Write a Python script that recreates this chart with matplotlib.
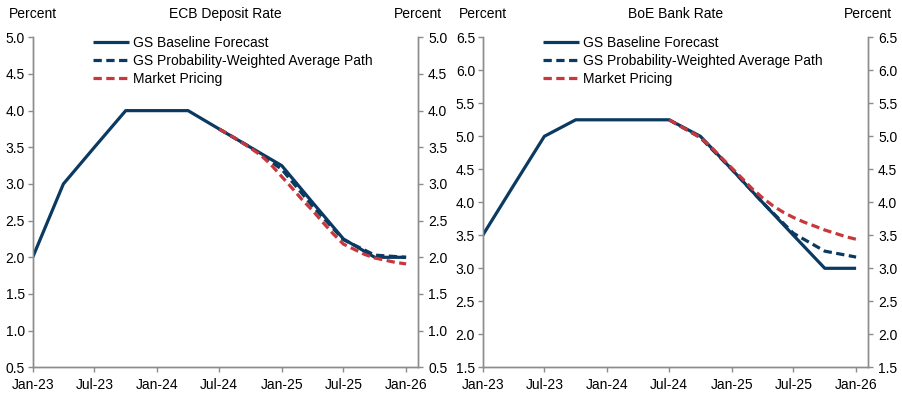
import matplotlib
matplotlib.use('Agg')
import matplotlib.pyplot as plt
import matplotlib.dates as mdates
import pandas as pd

plt.rcParams['font.family'] = ['Liberation Sans', 'DejaVu Sans']

# ---- data ----
quarter_dates = ['2023-01-01', '2023-04-01', '2023-07-01', '2023-10-01', '2024-01-01',
                 '2024-04-01', '2024-07-01', '2024-10-01', '2025-01-01', '2025-04-01',
                 '2025-07-01', '2025-10-01', '2026-01-01']
fcst_quarter_dates = ['2024-07-01', '2024-10-01', '2025-01-01', '2025-04-01',
                      '2025-07-01', '2025-10-01', '2026-01-01']
market_dates = ['2024-07-01', '2024-08-01', '2024-09-01', '2024-10-01', '2024-11-01',
                '2024-12-01', '2025-01-01', '2025-02-01', '2025-03-01', '2025-04-01',
                '2025-05-01', '2025-06-01', '2025-07-01', '2025-08-01', '2025-09-01',
                '2025-10-01', '2025-11-01', '2025-12-01', '2026-01-01']

ecb_baseline = [2.0, 3.0, 3.5, 4.0, 4.0, 4.0, 3.75, 3.5, 3.25, 2.75, 2.25, 2.0, 2.0]
ecb_probw = [3.75, 3.5, 3.2, 2.7, 2.24, 2.03, 2.0]
ecb_market = [3.75, 3.67, 3.58, 3.49, 3.39, 3.26, 3.10, 2.94, 2.79, 2.64, 2.48,
              2.32, 2.18, 2.11, 2.04, 1.99, 1.96, 1.93, 1.91]

boe_baseline = [3.5, 4.25, 5.0, 5.25, 5.25, 5.25, 5.25, 5.0, 4.5, 4.0, 3.5, 3.0, 3.0]
boe_probw = [5.25, 4.98, 4.5, 4.0, 3.53, 3.26, 3.17]
boe_market = [5.25, 5.16, 5.07, 4.98, 4.84, 4.68, 4.52, 4.36, 4.21, 4.07, 3.95,
              3.85, 3.77, 3.70, 3.64, 3.58, 3.53, 3.48, 3.44]

titles = ['ECB Deposit Rate', 'BoE Bank Rate']
ylims = [(0.5, 5.0), (1.5, 6.5)]
tick_dates = ['2023-01-01', '2023-07-01', '2024-01-01', '2024-07-01',
              '2025-01-01', '2025-07-01', '2026-01-01']
labels = ['GS Baseline Forecast', 'GS Probability-Weighted Average Path', 'Market Pricing']

NAVY = '#0a3a62'
RED = '#c8373b'
GRID = '#8c8c8c'

qd = pd.to_datetime(quarter_dates)
fd = pd.to_datetime(fcst_quarter_dates)
md = pd.to_datetime(market_dates)
td = pd.to_datetime(tick_dates)

fig = plt.figure(figsize=(9.03, 4.07), dpi=100)
W, H = 903, 407
axes_px = [(32.7, 417.7), (482.7, 867.7)]
ytop, ybot = 37.3, 367.3

datasets = [(ecb_baseline, ecb_probw, ecb_market), (boe_baseline, boe_probw, boe_market)]

for i, (x0, x1) in enumerate(axes_px):
    ax = fig.add_axes([x0 / W, 1 - ybot / H, (x1 - x0) / W, (ybot - ytop) / H])
    ax2 = ax.twinx()
    base, probw, market = datasets[i]
    l1, = ax.plot(qd, base, color=NAVY, lw=2.3, solid_capstyle='butt', zorder=3)
    l2, = ax.plot(fd, probw, color=NAVY, lw=2.3, dashes=(2.6, 1.4), zorder=4)
    l3, = ax.plot(md, market, color=RED, lw=2.3, dashes=(2.6, 1.4), zorder=5)

    lo, hi = ylims[i]
    ax.set_ylim(lo, hi)
    ax2.set_ylim(lo, hi)
    yt = [lo + 0.5 * k for k in range(int(round((hi - lo) / 0.5)) + 1)]
    ax.set_yticks(yt)
    ax2.set_yticks(yt)
    ax.set_yticklabels([f'{v:.1f}' for v in yt])
    ax2.set_yticklabels([f'{v:.1f}' for v in yt])

    ax.set_xlim(pd.Timestamp('2023-01-01'), pd.Timestamp('2026-02-04'))
    ax.set_xticks(td)
    ax.xaxis.set_major_formatter(mdates.DateFormatter('%b-%y'))

    for a in (ax, ax2):
        for s in a.spines.values():
            s.set_color(GRID)
            s.set_linewidth(1.0)
        a.spines['top'].set_visible(False)
        a.tick_params(colors=GRID, labelcolor='black', labelsize=10, length=3.5, width=1.0)
    ax.tick_params(axis='y', pad=2)
    ax2.tick_params(axis='y', pad=4)
    ax.tick_params(axis='x', pad=4)

    xl = x0 / W
    xr = x1 / W
    fig.text(xl, 1 - 14 / H, 'Percent', ha='center', va='center', fontsize=10)
    fig.text(xr, 1 - 14 / H, 'Percent', ha='center', va='center', fontsize=10)
    fig.text((xl + xr) / 2, 1 - 14 / H, titles[i], ha='center', va='center', fontsize=10)

    leg = ax.legend([l1, l2, l3], labels, loc='upper left',
                    bbox_to_anchor=(0.157, 1.004), frameon=False, fontsize=10,
                    handlelength=2.55, handletextpad=0.3, labelspacing=0.3,
                    borderpad=0, borderaxespad=0)

fig.savefig('out.png', dpi=100)
